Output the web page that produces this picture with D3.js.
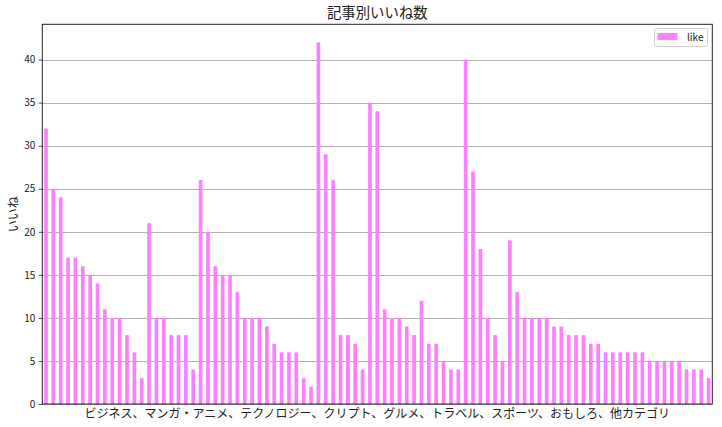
<!DOCTYPE html>
<html><head><meta charset="utf-8">
<script src="https://cdn.jsdelivr.net/npm/d3@7"></script>
<style>body{margin:0;background:#fff}svg{display:block}</style>
</head><body>
<svg id="c" width="722" height="427"></svg>
<script>
const title = "記事別いいね数";
const xLabel = "ビジネス、マンガ・アニメ、テクノロジー、クリプト、グルメ、トラベル、スポーツ、おもしろ、他カテゴリ";
const yLabel = "いいね";
const seriesName = "like";
const likes = [32,25,24,17,17,16,15,14,11,10,10,8,6,3,
  21,10,10,8,8,8,4,
  26,20,16,15,15,13,10,10,10,9,7,6,6,6,3,2,
  42,29,26,8,8,7,4,
  35,34,11,10,10,9,8,12,7,7,5,4,4,
  40,27,18,10,8,5,
  19,13,10,10,10,10,9,9,8,8,8,7,7,6,6,6,6,6,6,5,5,5,5,5,4,4,4,3];
const articles = likes.map((d,i)=>i);
const yTicks = [0,5,10,15,20,25,30,35,40];

const font = "'Noto Sans CJK JP', 'DejaVu Sans', sans-serif";
const color = "#ff80ff";
const m = {l:42.3, r:712.3, t:24.3, b:404};
const svg = d3.select("#c");

const x = d3.scaleBand().domain(articles).range([m.l, m.r]).paddingInner(0.5).paddingOuter(0.25);
const y = d3.scaleLinear().domain([0, d3.max(likes)*1.05]).range([m.b, m.t]);

// grid
svg.append("g").selectAll("line").data(yTicks).join("line")
  .attr("x1", m.l).attr("x2", m.r)
  .attr("y1", d=>Math.round(y(d))+0.5).attr("y2", d=>Math.round(y(d))+0.5)
  .attr("stroke", "#b0b0b0").attr("stroke-width", 1);

// bars
svg.append("g").selectAll("rect").data(likes).join("rect")
  .attr("x", (d,i)=>x(i)).attr("width", x.bandwidth())
  .attr("y", d=>y(d)).attr("height", d=>m.b - y(d))
  .attr("fill", color);

// y axis
const yAxis = d3.axisLeft(y).tickValues(yTicks).tickSize(3.5).tickPadding(3.5);
const ga = svg.append("g").attr("transform", `translate(${m.l},0)`).call(yAxis);
ga.select(".domain").remove();
ga.selectAll("text").attr("font-family", font).attr("font-size", 10).attr("fill", "#222");
ga.selectAll("line").attr("stroke", "#222").attr("stroke-width", 0.8);

// frame
svg.append("rect").attr("x", m.l).attr("y", m.t).attr("width", m.r-m.l).attr("height", m.b-m.t)
  .attr("fill", "none").attr("stroke", "#222").attr("stroke-width", 1);

// title
svg.append("text").attr("x", (m.l+m.r)/2).attr("y", 18).attr("text-anchor", "middle")
  .attr("font-family", font).attr("font-size", 14.4).attr("fill", "#222").text(title);
// x label
svg.append("text").attr("x", (m.l+m.r)/2).attr("y", 418).attr("text-anchor", "middle")
  .attr("font-family", font).attr("font-size", 12).attr("fill", "#222").text(xLabel);
// y label
svg.append("text").attr("transform", `translate(18,${(m.t+m.b)/2}) rotate(-90)`).attr("text-anchor", "middle")
  .attr("font-family", font).attr("font-size", 12).attr("fill", "#222").text(yLabel);

// legend
const lg = svg.append("g");
lg.append("rect").attr("x", 654.5).attr("y", 28.5).attr("width", 53).attr("height", 18).attr("rx", 2)
  .attr("fill", "#fff").attr("fill-opacity", 0.8).attr("stroke", "#d0d0d0").attr("stroke-width", 1);
lg.append("rect").attr("x", 657.5).attr("y", 33).attr("width", 20).attr("height", 7).attr("fill", color);
lg.append("text").attr("x", 687).attr("y", 41).attr("font-family", font).attr("font-size", 10)
  .attr("fill", "#222").text(seriesName);
</script>
</body></html>
